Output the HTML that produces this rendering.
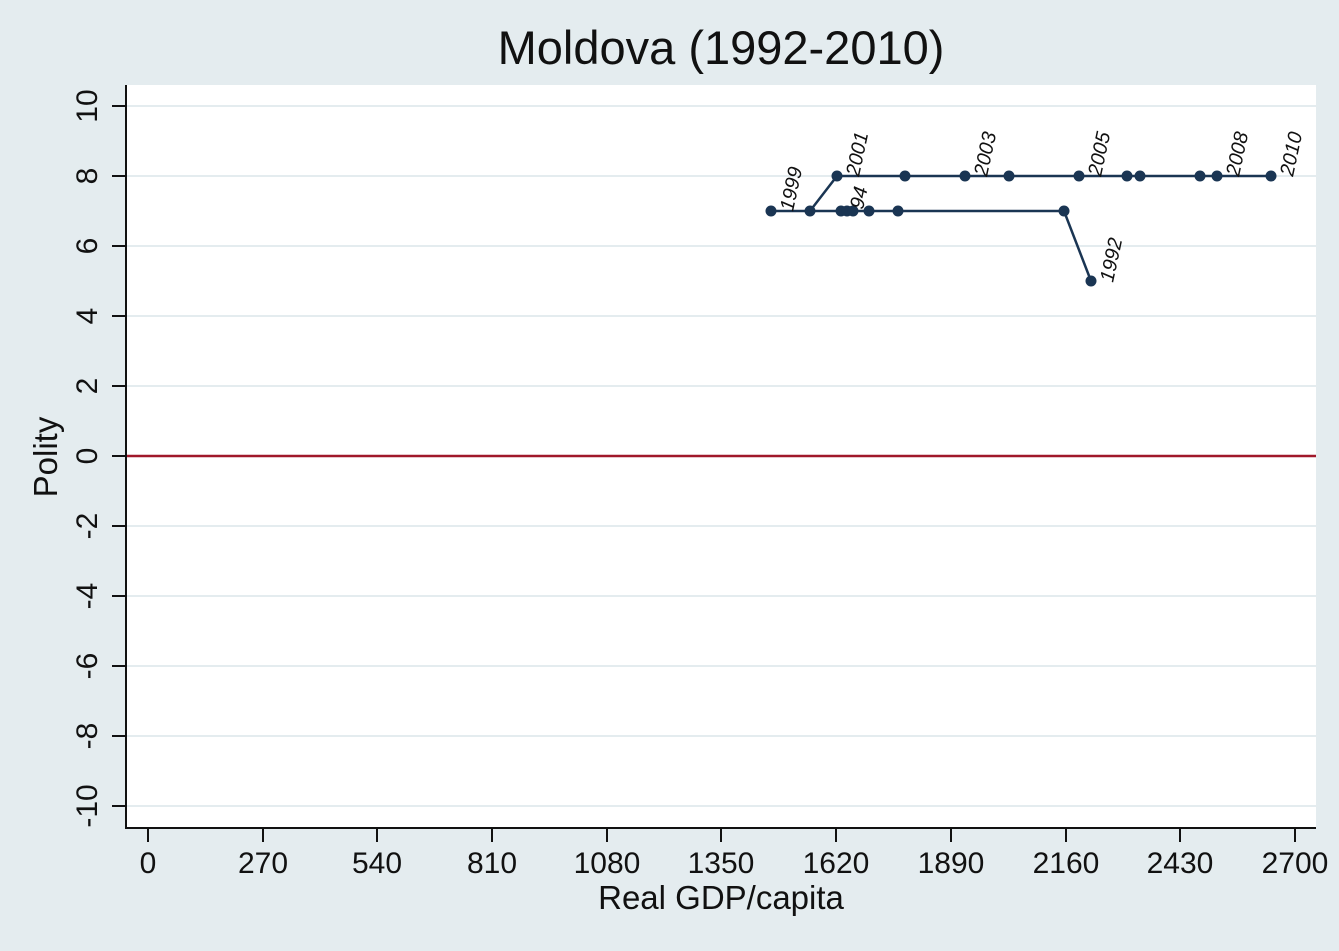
<!DOCTYPE html>
<html><head><style>
body{margin:0;background:#e4ecef;}
svg{display:block}
text{font-family:"Liberation Sans",Arial,sans-serif;fill:#111;}
</style></head><body>
<svg width="1339" height="951" viewBox="0 0 1339 951">
<rect x="0" y="0" width="1339" height="951" fill="#e4ecef"/>
<rect x="126" y="85" width="1190" height="743" fill="#fff"/>
<g stroke="#e4ecef" stroke-width="2">
<line x1="126" x2="1316" y1="106" y2="106"/><line x1="126" x2="1316" y1="176" y2="176"/>
<line x1="126" x2="1316" y1="246" y2="246"/><line x1="126" x2="1316" y1="316" y2="316"/>
<line x1="126" x2="1316" y1="386" y2="386"/><line x1="126" x2="1316" y1="526" y2="526"/>
<line x1="126" x2="1316" y1="596" y2="596"/><line x1="126" x2="1316" y1="666" y2="666"/>
<line x1="126" x2="1316" y1="736" y2="736"/><line x1="126" x2="1316" y1="806" y2="806"/>
</g>
<line x1="126" x2="1316" y1="456" y2="456" stroke="#a0182a" stroke-width="2.5"/>
<g stroke="#111" stroke-width="2">
<line x1="126" x2="126" y1="85" y2="829"/><line x1="125" x2="1316" y1="828" y2="828"/>
</g>
<g stroke="#111" stroke-width="2">
<line x1="112" x2="126" y1="106" y2="106"/><line x1="112" x2="126" y1="176" y2="176"/>
<line x1="112" x2="126" y1="246" y2="246"/><line x1="112" x2="126" y1="316" y2="316"/>
<line x1="112" x2="126" y1="386" y2="386"/><line x1="112" x2="126" y1="456" y2="456"/>
<line x1="112" x2="126" y1="526" y2="526"/><line x1="112" x2="126" y1="596" y2="596"/>
<line x1="112" x2="126" y1="666" y2="666"/><line x1="112" x2="126" y1="736" y2="736"/>
<line x1="112" x2="126" y1="806" y2="806"/>
<line x1="148" x2="148" y1="828" y2="842"/><line x1="263" x2="263" y1="828" y2="842"/>
<line x1="377" x2="377" y1="828" y2="842"/><line x1="492" x2="492" y1="828" y2="842"/>
<line x1="607" x2="607" y1="828" y2="842"/><line x1="721" x2="721" y1="828" y2="842"/>
<line x1="836" x2="836" y1="828" y2="842"/><line x1="951" x2="951" y1="828" y2="842"/>
<line x1="1066" x2="1066" y1="828" y2="842"/><line x1="1180" x2="1180" y1="828" y2="842"/>
<line x1="1295" x2="1295" y1="828" y2="842"/>
</g>
<g font-size="30" text-anchor="middle">
<text x="148" y="873">0</text><text x="263" y="873">270</text><text x="377" y="873">540</text>
<text x="492" y="873">810</text><text x="607" y="873">1080</text><text x="721" y="873">1350</text>
<text x="836" y="873">1620</text><text x="951" y="873">1890</text><text x="1066" y="873">2160</text>
<text x="1180" y="873">2430</text><text x="1295" y="873">2700</text>
</g>
<g font-size="30" text-anchor="middle">
<text transform="translate(97,106) rotate(-90)">10</text>
<text transform="translate(97,176) rotate(-90)">8</text>
<text transform="translate(97,246) rotate(-90)">6</text>
<text transform="translate(97,316) rotate(-90)">4</text>
<text transform="translate(97,386) rotate(-90)">2</text>
<text transform="translate(97,456) rotate(-90)">0</text>
<text transform="translate(97,526) rotate(-90)">-2</text>
<text transform="translate(97,596) rotate(-90)">-4</text>
<text transform="translate(97,666) rotate(-90)">-6</text>
<text transform="translate(97,736) rotate(-90)">-8</text>
<text transform="translate(97,806) rotate(-90)">-10</text>
</g>
<text x="721" y="909" font-size="33" text-anchor="middle">Real GDP/capita</text>
<text transform="translate(57,457) rotate(-90)" font-size="33" text-anchor="middle">Polity</text>
<text x="721" y="64" font-size="47" text-anchor="middle">Moldova (1992-2010)</text>
<g stroke="#1a3553" stroke-width="2.5" fill="none">
<polyline points="1091,281 1064,211 771,211"/>
<polyline points="810,211 837,176 1271,176"/>
</g>
<g fill="#1a3553">
<circle cx="1091" cy="281" r="5.5"/><circle cx="1064" cy="211" r="5.5"/>
<circle cx="771" cy="211" r="5.5"/><circle cx="810" cy="211" r="5.5"/><circle cx="841" cy="211" r="5.5"/>
<circle cx="847" cy="211" r="5.5"/><circle cx="853" cy="211" r="5.5"/><circle cx="869" cy="211" r="5.5"/>
<circle cx="898" cy="211" r="5.5"/>
<circle cx="837" cy="176" r="5.5"/><circle cx="905" cy="176" r="5.5"/><circle cx="965" cy="176" r="5.5"/>
<circle cx="1009" cy="176" r="5.5"/><circle cx="1079" cy="176" r="5.5"/><circle cx="1127" cy="176" r="5.5"/>
<circle cx="1140" cy="176" r="5.5"/><circle cx="1200" cy="176" r="5.5"/><circle cx="1217" cy="176" r="5.5"/>
<circle cx="1271" cy="176" r="5.5"/>
</g>
<g font-size="20" font-style="italic" fill="#222">
<text transform="translate(793,212) rotate(-78)">1999</text>
<text transform="translate(859,177) rotate(-78)">2001</text>
<text transform="translate(863,210) rotate(-78)">94</text>
<text transform="translate(987,177) rotate(-78)">2003</text>
<text transform="translate(1101,177) rotate(-78)">2005</text>
<text transform="translate(1239,177) rotate(-78)">2008</text>
<text transform="translate(1293,177) rotate(-78)">2010</text>
<text transform="translate(1113,283) rotate(-78)">1992</text>
</g>
</svg>
</body></html>
